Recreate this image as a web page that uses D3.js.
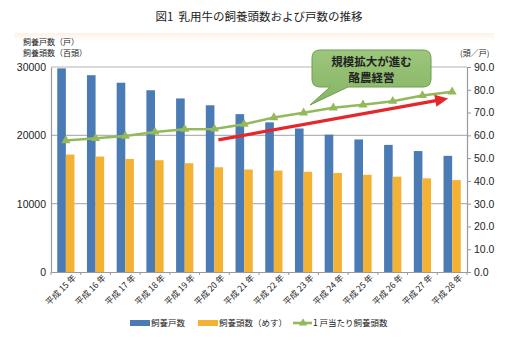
<!DOCTYPE html>
<html>
<head>
<meta charset="utf-8">
<script src="https://cdn.jsdelivr.net/npm/d3@7"></script>
<style>
  body { margin: 0; background: #fff; }
  svg { display: block; }
  text { font-family: "Liberation Sans", Arial, "Noto Sans CJK JP", sans-serif; fill: #222; }
  .jp { font-family: "Noto Sans CJK JP", sans-serif; }
</style>
</head>
<body>
<svg id="chart" width="518" height="340"></svg>
<script>
// 乳用牛の飼養戸数・頭数（平成15〜28年）
const years = ["平成 15 年", "平成 16 年", "平成 17 年", "平成 18 年", "平成 19 年", "平成 20 年", "平成 21 年",
  "平成 22 年", "平成 23 年", "平成 24 年", "平成 25 年", "平成 26 年", "平成 27 年", "平成 28 年"];
const farms = [29800, 28800, 27700, 26600, 25400, 24400, 23100, 21900, 21000, 20100, 19400, 18600, 17700, 17000];
const heads = [17190, 16900, 16550, 16360, 15920, 15330, 15000, 14840, 14670, 14490, 14230, 13950, 13710, 13450];
const perFarm = [57.7, 58.7, 59.7, 61.5, 62.7, 62.8, 64.9, 67.8, 69.9, 72.1, 73.4, 75.0, 77.5, 79.1];
const leftTicks = [0, 10000, 20000, 30000];
const rightTicks = [0, 10, 20, 30, 40, 50, 60, 70, 80, 90];
const seriesNames = ["飼養戸数", "飼養頭数（めす）", "1 戸当たり飼養頭数"];
const colors = ["#4a7bb5", "#f4b235", "#93b95b"];
const calloutLines = ["規模拡大が進む", "酪農経営"];
// red trend arrow: [year, 頭/戸]
const arrowFrom = ["平成 20 年", 58];
const arrowTo = ["平成 28 年", 76.2];

const svg = d3.select("#chart");
const plot = { left: 51, right: 467, top: 67, bottom: 272 };

// faint header band
const defs = svg.append("defs");
const grad = defs.append("linearGradient")
  .attr("id", "band").attr("x1", 0).attr("x2", 0).attr("y1", 0).attr("y2", 1);
grad.append("stop").attr("offset", 0).attr("stop-color", "#fdf1e6");
grad.append("stop").attr("offset", 1).attr("stop-color", "#fff");
svg.append("rect").attr("x", 14).attr("y", 33).attr("width", 480).attr("height", 8)
  .attr("fill", "url(#band)");

svg.append("text").attr("class", "jp")
  .attr("x", 259).attr("y", 21)
  .attr("text-anchor", "middle")
  .style("font-size", "11.5px")
  .text("図1\u00a0\u00a0乳用牛の飼養頭数および戸数の推移");

const x = d3.scaleBand().domain(years).range([plot.left, plot.right]);
const sub = d3.scaleBand().domain([0, 1])
  .range([0, x.bandwidth() * 0.58]);
const subOff = (x.bandwidth() - sub.range()[1]) / 2;
const yL = d3.scaleLinear().domain([0, 30000]).range([plot.bottom, plot.top]);
const yR = d3.scaleLinear().domain([0, 90]).range([plot.bottom, plot.top]);

// gridlines
svg.append("g").selectAll("line")
  .data(leftTicks.slice(1))
  .join("line")
  .attr("x1", plot.left).attr("x2", plot.right)
  .attr("y1", d => yL(d)).attr("y2", d => yL(d))
  .attr("stroke", "#b4b4b4").attr("stroke-width", 1.2);

// bars
const bars = svg.append("g");
[farms, heads].forEach((vals, s) => {
  bars.append("g").selectAll("rect")
    .data(vals)
    .join("rect")
    .attr("x", (d, i) => x(years[i]) + subOff + sub(s))
    .attr("y", d => yL(d))
    .attr("width", sub.bandwidth())
    .attr("height", d => plot.bottom - yL(d))
    .attr("fill", colors[s]);
});

// left axis
const axL = svg.append("g").attr("transform", `translate(${plot.left},0)`)
  .call(d3.axisLeft(yL).tickValues(leftTicks).tickSize(0).tickPadding(5).tickFormat(d3.format("d")));
axL.select(".domain").attr("stroke", "#9a9a9a").attr("stroke-width", 1.2);
axL.selectAll("text").style("font-size", "10.5px").attr("fill", "#222");

// right axis
const axR = svg.append("g").attr("transform", `translate(${plot.right},0)`)
  .call(d3.axisRight(yR).tickValues(rightTicks).tickSize(4).tickPadding(3).tickFormat(d3.format(".1f")));
axR.select(".domain").attr("stroke", "#9a9a9a").attr("stroke-width", 1.2);
axR.selectAll("line").attr("stroke", "#9a9a9a");
axR.selectAll("text").style("font-size", "10.5px").attr("fill", "#222");

// bottom axis
const axB = svg.append("g").attr("transform", `translate(0,${plot.bottom})`)
  .call(d3.axisBottom(x).tickSize(0).tickPadding(6));
axB.select(".domain").attr("stroke", "#9a9a9a").attr("stroke-width", 1.2);
axB.selectAll("text")
  .attr("class", "jp")
  .style("font-size", "8.5px")
  .attr("text-anchor", "end")
  .attr("dx", "0.3em")
  .attr("dy", "0.3em")
  .attr("transform", "translate(3,2) rotate(-45)");
svg.append("g").selectAll("line")
  .data(d3.range(years.length + 1))
  .join("line")
  .attr("x1", i => plot.left + i * x.step()).attr("x2", i => plot.left + i * x.step())
  .attr("y1", plot.bottom).attr("y2", plot.bottom + 3)
  .attr("stroke", "#9a9a9a");

// axis titles
svg.append("g").selectAll("text")
  .data(["飼養戸数（戸）", "飼養頭数（百頭）"])
  .join("text")
  .attr("class", "jp")
  .attr("x", 23).attr("y", (d, i) => 45 + i * 11)
  .style("font-size", "8px")
  .text(d => d);
svg.append("text").attr("class", "jp").attr("x", 460).attr("y", 56)
  .style("font-size", "8px").text("(頭／戸)");

// per-farm line
const cx = d => x(d) + x.bandwidth() / 2;
const line = d3.line().x((d, i) => cx(years[i])).y(d => yR(d));
svg.append("path").datum(perFarm)
  .attr("d", line)
  .attr("fill", "none").attr("stroke", colors[2]).attr("stroke-width", 2.6);
svg.append("g").selectAll("path")
  .data(perFarm)
  .join("path")
  .attr("d", d3.symbol().type(d3.symbolTriangle).size(36))
  .attr("transform", (d, i) => `translate(${cx(years[i])},${yR(d)})`)
  .attr("fill", colors[2]);

// trend arrow
const ax1 = cx(arrowFrom[0]) + 4, ay1 = yR(arrowFrom[1]);
const ax2 = cx(arrowTo[0]) - 4, ay2 = yR(arrowTo[1]);
const ang = Math.atan2(ay2 - ay1, ax2 - ax1);
const headLen = 13, headW = 6;
const bx = ax2 - headLen * Math.cos(ang), by = ay2 - headLen * Math.sin(ang);
svg.append("line")
  .attr("x1", ax1).attr("y1", ay1).attr("x2", bx + 2 * Math.cos(ang)).attr("y2", by + 2 * Math.sin(ang))
  .attr("stroke", "#e5262b").attr("stroke-width", 3.2);
svg.append("path")
  .attr("d", `M${ax2},${ay2}L${bx + headW * Math.sin(ang)},${by - headW * Math.cos(ang)}L${bx - headW * Math.sin(ang)},${by + headW * Math.cos(ang)}Z`)
  .attr("fill", "#e5262b");

// callout
const cb = { x: 312, y: 50, w: 119, h: 37, r: 8 };
const cg = defs.append("linearGradient")
  .attr("id", "callout").attr("x1", 0).attr("x2", 0).attr("y1", 0).attr("y2", 1);
cg.append("stop").attr("offset", 0).attr("stop-color", "#9cc67c");
cg.append("stop").attr("offset", 1).attr("stop-color", "#86b464");
const callPath = `M${cb.x + cb.r},${cb.y}H${cb.x + cb.w - cb.r}Q${cb.x + cb.w},${cb.y} ${cb.x + cb.w},${cb.y + cb.r}` +
  `V${cb.y + cb.h - cb.r}Q${cb.x + cb.w},${cb.y + cb.h} ${cb.x + cb.w - cb.r},${cb.y + cb.h}` +
  `H${cb.x + 36}L${cb.x - 2},${cb.y + 55}L${cb.x + 18},${cb.y + cb.h}` +
  `H${cb.x + cb.r}Q${cb.x},${cb.y + cb.h} ${cb.x},${cb.y + cb.h - cb.r}V${cb.y + cb.r}Q${cb.x},${cb.y} ${cb.x + cb.r},${cb.y}Z`;
svg.append("path").attr("d", callPath)
  .attr("fill", "url(#callout)").attr("stroke", "#6f9e50").attr("stroke-width", 1);
svg.append("g").selectAll("text")
  .data(calloutLines)
  .join("text")
  .attr("class", "jp")
  .attr("x", cb.x + cb.w / 2)
  .attr("y", (d, i) => cb.y + 16 + i * 15.5)
  .attr("text-anchor", "middle")
  .style("font-size", "11.5px").style("font-weight", "bold")
  .attr("fill", "#333")
  .text(d => d);

// legend
const legend = svg.append("g").attr("transform", "translate(0,323)");
const legX = [130, 198, 293];
const legItems = legend.selectAll("g")
  .data(seriesNames)
  .join("g")
  .attr("transform", (d, i) => `translate(${legX[i]},0)`);
legItems.filter((d, i) => i < 2).append("rect")
  .attr("x", 0).attr("y", -3).attr("width", 20).attr("height", 6)
  .attr("fill", (d, i) => colors[i]);
const lineItem = legItems.filter((d, i) => i === 2);
lineItem.append("line").attr("x1", 0).attr("x2", 19).attr("y1", 0).attr("y2", 0)
  .attr("stroke", colors[2]).attr("stroke-width", 2.6);
lineItem.append("path")
  .attr("d", d3.symbol().type(d3.symbolTriangle).size(30))
  .attr("transform", "translate(10,0)")
  .attr("fill", colors[2]);
legItems.append("text")
  .attr("class", "jp")
  .attr("x", (d, i) => i === 2 ? 20 : 21)
  .attr("dy", "0.36em")
  .style("font-size", "8.5px")
  .text(d => d);
</script>
</body>
</html>
